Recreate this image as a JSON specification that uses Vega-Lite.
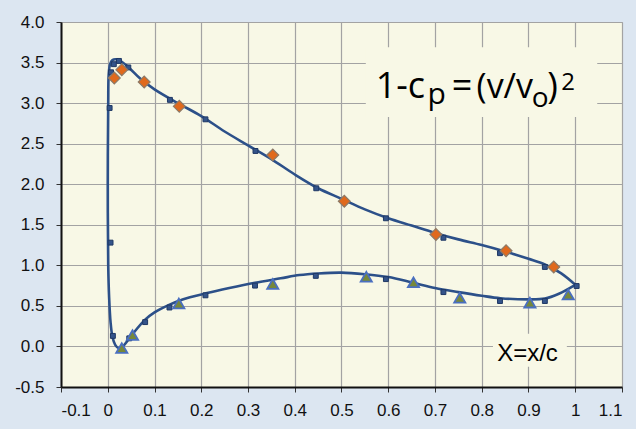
{
  "$schema": "https://vega.github.io/schema/vega-lite/v6.json",
  "width": 561,
  "height": 365,
  "autosize": "none",
  "padding": {"left": 61, "top": 22, "right": 14, "bottom": 42},
  "background": "#dce6f1",
  "config": {
    "view": {"fill": "#f8f8e6", "stroke": "#a0a0a0", "strokeWidth": 1},
    "axis": {
      "grid": true,
      "gridColor": "#a3a3a3",
      "gridWidth": 1.2,
      "domainColor": "#111111",
      "domainWidth": 2,
      "tickColor": "#333333",
      "tickSize": 5,
      "labelFont": "Liberation Sans",
      "labelFontSize": 17,
      "labelColor": "#111111",
      "title": null
    },
    "axisX": {
      "values": [-0.1, 0, 0.1, 0.2, 0.3, 0.4, 0.5, 0.6, 0.7, 0.8, 0.9, 1, 1.1],
      "labelExpr": "replace(format(datum.value, '~g'), '\u2212', '-')",
      "labelPadding": 10
    },
    "axisY": {
      "values": [-0.5, 0, 0.5, 1, 1.5, 2, 2.5, 3, 3.5, 4],
      "labelExpr": "replace(format(datum.value, '.1f'), '\u2212', '-')",
      "labelPadding": 12
    }
  },
  "datasets": {
    "curve": [
      {"o": 1, "x": 1.0, "y": 0.76},
      {"o": 2, "x": 0.97, "y": 0.9},
      {"o": 3, "x": 0.935, "y": 1.01},
      {"o": 4, "x": 0.9, "y": 1.08},
      {"o": 5, "x": 0.85, "y": 1.17},
      {"o": 6, "x": 0.8, "y": 1.25},
      {"o": 7, "x": 0.75, "y": 1.32},
      {"o": 8, "x": 0.7, "y": 1.4},
      {"o": 9, "x": 0.65, "y": 1.49},
      {"o": 10, "x": 0.6, "y": 1.58},
      {"o": 11, "x": 0.55, "y": 1.69},
      {"o": 12, "x": 0.5, "y": 1.82},
      {"o": 13, "x": 0.45, "y": 1.95},
      {"o": 14, "x": 0.4, "y": 2.12},
      {"o": 15, "x": 0.35, "y": 2.31},
      {"o": 16, "x": 0.3, "y": 2.48},
      {"o": 17, "x": 0.25, "y": 2.65},
      {"o": 18, "x": 0.2, "y": 2.84},
      {"o": 19, "x": 0.15, "y": 3.0},
      {"o": 20, "x": 0.1, "y": 3.17},
      {"o": 21, "x": 0.07, "y": 3.3},
      {"o": 22, "x": 0.045, "y": 3.44},
      {"o": 23, "x": 0.03, "y": 3.51},
      {"o": 24, "x": 0.018, "y": 3.54},
      {"o": 25, "x": 0.01, "y": 3.53},
      {"o": 26, "x": 0.005, "y": 3.48},
      {"o": 27, "x": 0.002, "y": 3.35},
      {"o": 28, "x": 0.001, "y": 3.0},
      {"o": 29, "x": 0.0, "y": 2.0},
      {"o": 30, "x": 0.001, "y": 1.0},
      {"o": 31, "x": 0.003, "y": 0.6},
      {"o": 32, "x": 0.006, "y": 0.3},
      {"o": 33, "x": 0.01, "y": 0.12},
      {"o": 34, "x": 0.016, "y": 0.02},
      {"o": 35, "x": 0.023, "y": -0.02},
      {"o": 36, "x": 0.032, "y": 0.0},
      {"o": 37, "x": 0.05, "y": 0.13},
      {"o": 38, "x": 0.08, "y": 0.33},
      {"o": 39, "x": 0.1, "y": 0.42},
      {"o": 40, "x": 0.13, "y": 0.51},
      {"o": 41, "x": 0.16, "y": 0.58},
      {"o": 42, "x": 0.21, "y": 0.655},
      {"o": 43, "x": 0.26, "y": 0.72},
      {"o": 44, "x": 0.315, "y": 0.785},
      {"o": 45, "x": 0.37, "y": 0.84},
      {"o": 46, "x": 0.41, "y": 0.88},
      {"o": 47, "x": 0.45, "y": 0.9},
      {"o": 48, "x": 0.5, "y": 0.91},
      {"o": 49, "x": 0.55, "y": 0.89},
      {"o": 50, "x": 0.6, "y": 0.855},
      {"o": 51, "x": 0.65, "y": 0.79},
      {"o": 52, "x": 0.7, "y": 0.72},
      {"o": 53, "x": 0.75, "y": 0.67},
      {"o": 54, "x": 0.8, "y": 0.625},
      {"o": 55, "x": 0.84, "y": 0.595},
      {"o": 56, "x": 0.9, "y": 0.58},
      {"o": 57, "x": 0.935, "y": 0.59},
      {"o": 58, "x": 0.965, "y": 0.65},
      {"o": 59, "x": 1.0, "y": 0.76}
    ],
    "calc": [
      {"x": 0.004, "y": 2.94}, {"x": 0.007, "y": 3.38}, {"x": 0.013, "y": 3.48},
      {"x": 0.024, "y": 3.52}, {"x": 0.044, "y": 3.44}, {"x": 0.133, "y": 3.04},
      {"x": 0.209, "y": 2.8}, {"x": 0.316, "y": 2.41}, {"x": 0.446, "y": 1.95},
      {"x": 0.595, "y": 1.58}, {"x": 0.718, "y": 1.34}, {"x": 0.839, "y": 1.15},
      {"x": 0.935, "y": 0.98}, {"x": 1.003, "y": 0.745},
      {"x": 0.006, "y": 1.28}, {"x": 0.011, "y": 0.13}, {"x": 0.046, "y": 0.1},
      {"x": 0.08, "y": 0.3}, {"x": 0.132, "y": 0.48}, {"x": 0.209, "y": 0.63},
      {"x": 0.315, "y": 0.75}, {"x": 0.445, "y": 0.87}, {"x": 0.595, "y": 0.83},
      {"x": 0.718, "y": 0.67}, {"x": 0.839, "y": 0.56}, {"x": 0.935, "y": 0.56}
    ],
    "upper": [
      {"x": 0.014, "y": 3.31}, {"x": 0.03, "y": 3.41}, {"x": 0.078, "y": 3.26},
      {"x": 0.153, "y": 2.96}, {"x": 0.353, "y": 2.36}, {"x": 0.506, "y": 1.79},
      {"x": 0.702, "y": 1.38}, {"x": 0.852, "y": 1.18}, {"x": 0.954, "y": 0.98}
    ],
    "lower": [
      {"x": 0.03, "y": -0.02}, {"x": 0.053, "y": 0.14}, {"x": 0.152, "y": 0.53},
      {"x": 0.353, "y": 0.77}, {"x": 0.553, "y": 0.86}, {"x": 0.654, "y": 0.79},
      {"x": 0.753, "y": 0.6}, {"x": 0.903, "y": 0.54}, {"x": 0.985, "y": 0.64}
    ],
    "one": [{"k": 1}]
  },
  "layer": [
    {
      "data": {"name": "one"},
      "mark": {"type": "rect", "fill": "#f8f8e6"},
      "encoding": {
        "x": {"datum": 0.552, "type": "quantitative", "scale": {"domain": [-0.1, 1.1], "nice": false, "zero": false}},
        "x2": {"datum": 1.047},
        "y": {"datum": 3.69, "type": "quantitative", "scale": {"domain": [-0.5, 4], "nice": false, "zero": false}},
        "y2": {"datum": 2.83}
      }
    },
    {
      "data": {"name": "one"},
      "mark": {"type": "rect", "fill": "#f8f8e6"},
      "encoding": {
        "x": {"datum": 0.824, "type": "quantitative", "scale": {"domain": [-0.1, 1.1], "nice": false, "zero": false}},
        "x2": {"datum": 0.982},
        "y": {"datum": 0.155, "type": "quantitative", "scale": {"domain": [-0.5, 4], "nice": false, "zero": false}},
        "y2": {"datum": -0.25}
      }
    },
    {
      "data": {"name": "curve"},
      "mark": {"type": "line", "color": "#2c5089", "strokeWidth": 2.6, "interpolate": "catmull-rom"},
      "encoding": {
        "x": {"field": "x", "type": "quantitative", "scale": {"domain": [-0.1, 1.1], "nice": false, "zero": false}},
        "y": {"field": "y", "type": "quantitative", "scale": {"domain": [-0.5, 4], "nice": false, "zero": false}},
        "order": {"field": "o", "type": "quantitative"}
      }
    },
    {
      "data": {"name": "calc"},
      "mark": {"type": "point", "shape": "square", "filled": true, "size": 24, "color": "#34548a", "stroke": "#1f3864", "strokeWidth": 1, "opacity": 1},
      "encoding": {
        "x": {"field": "x", "type": "quantitative", "scale": {"domain": [-0.1, 1.1], "nice": false, "zero": false}},
        "y": {"field": "y", "type": "quantitative", "scale": {"domain": [-0.5, 4], "nice": false, "zero": false}}
      }
    },
    {
      "data": {"name": "upper"},
      "mark": {"type": "point", "shape": "diamond", "filled": true, "size": 140, "fill": "#e0691c", "stroke": "#8c7a68", "strokeWidth": 1.2, "opacity": 1},
      "encoding": {
        "x": {"field": "x", "type": "quantitative", "scale": {"domain": [-0.1, 1.1], "nice": false, "zero": false}},
        "y": {"field": "y", "type": "quantitative", "scale": {"domain": [-0.5, 4], "nice": false, "zero": false}}
      }
    },
    {
      "data": {"name": "lower"},
      "mark": {"type": "point", "shape": "triangle-up", "filled": true, "size": 125, "fill": "#76883a", "stroke": "#4a6fc0", "strokeWidth": 1.8, "opacity": 1},
      "encoding": {
        "x": {"field": "x", "type": "quantitative", "scale": {"domain": [-0.1, 1.1], "nice": false, "zero": false}},
        "y": {"field": "y", "type": "quantitative", "scale": {"domain": [-0.5, 4], "nice": false, "zero": false}}
      }
    },
    {
      "data": {"name": "one"},
      "mark": {"type": "text", "text": "1-c", "font": "Open Sans", "fontSize": 36, "align": "left", "baseline": "alphabetic", "color": "#000000"},
      "encoding": {"x": {"datum": 0.573, "type": "quantitative"}, "y": {"datum": 3.06, "type": "quantitative"}}
    },
    {
      "data": {"name": "one"},
      "mark": {"type": "text", "text": "p", "font": "Open Sans", "fontSize": 30, "align": "left", "baseline": "alphabetic", "color": "#000000"},
      "encoding": {"x": {"datum": 0.684, "type": "quantitative"}, "y": {"datum": 2.99, "type": "quantitative"}}
    },
    {
      "data": {"name": "one"},
      "mark": {"type": "text", "text": "=", "font": "Open Sans", "fontSize": 36, "align": "left", "baseline": "alphabetic", "color": "#000000"},
      "encoding": {"x": {"datum": 0.736, "type": "quantitative"}, "y": {"datum": 3.06, "type": "quantitative"}}
    },
    {
      "data": {"name": "one"},
      "mark": {"type": "text", "text": "(v/v", "font": "Open Sans", "fontSize": 34, "align": "left", "baseline": "alphabetic", "color": "#000000"},
      "encoding": {"x": {"datum": 0.789, "type": "quantitative"}, "y": {"datum": 3.06, "type": "quantitative"}}
    },
    {
      "data": {"name": "one"},
      "mark": {"type": "text", "text": "o", "font": "Open Sans", "fontSize": 28, "align": "left", "baseline": "alphabetic", "color": "#000000"},
      "encoding": {"x": {"datum": 0.907, "type": "quantitative"}, "y": {"datum": 2.95, "type": "quantitative"}}
    },
    {
      "data": {"name": "one"},
      "mark": {"type": "text", "text": ")", "font": "Open Sans", "fontSize": 36, "align": "left", "baseline": "alphabetic", "color": "#000000"},
      "encoding": {"x": {"datum": 0.94, "type": "quantitative"}, "y": {"datum": 3.06, "type": "quantitative"}}
    },
    {
      "data": {"name": "one"},
      "mark": {"type": "text", "text": "2", "font": "Open Sans", "fontSize": 24, "align": "left", "baseline": "alphabetic", "color": "#000000"},
      "encoding": {"x": {"datum": 0.97, "type": "quantitative"}, "y": {"datum": 3.16, "type": "quantitative"}}
    },
    {
      "data": {"name": "one"},
      "mark": {"type": "text", "text": "X=x/c", "font": "Liberation Sans", "fontSize": 24, "align": "left", "baseline": "alphabetic", "color": "#000000"},
      "encoding": {"x": {"datum": 0.833, "type": "quantitative"}, "y": {"datum": -0.18, "type": "quantitative"}}
    }
  ]
}
